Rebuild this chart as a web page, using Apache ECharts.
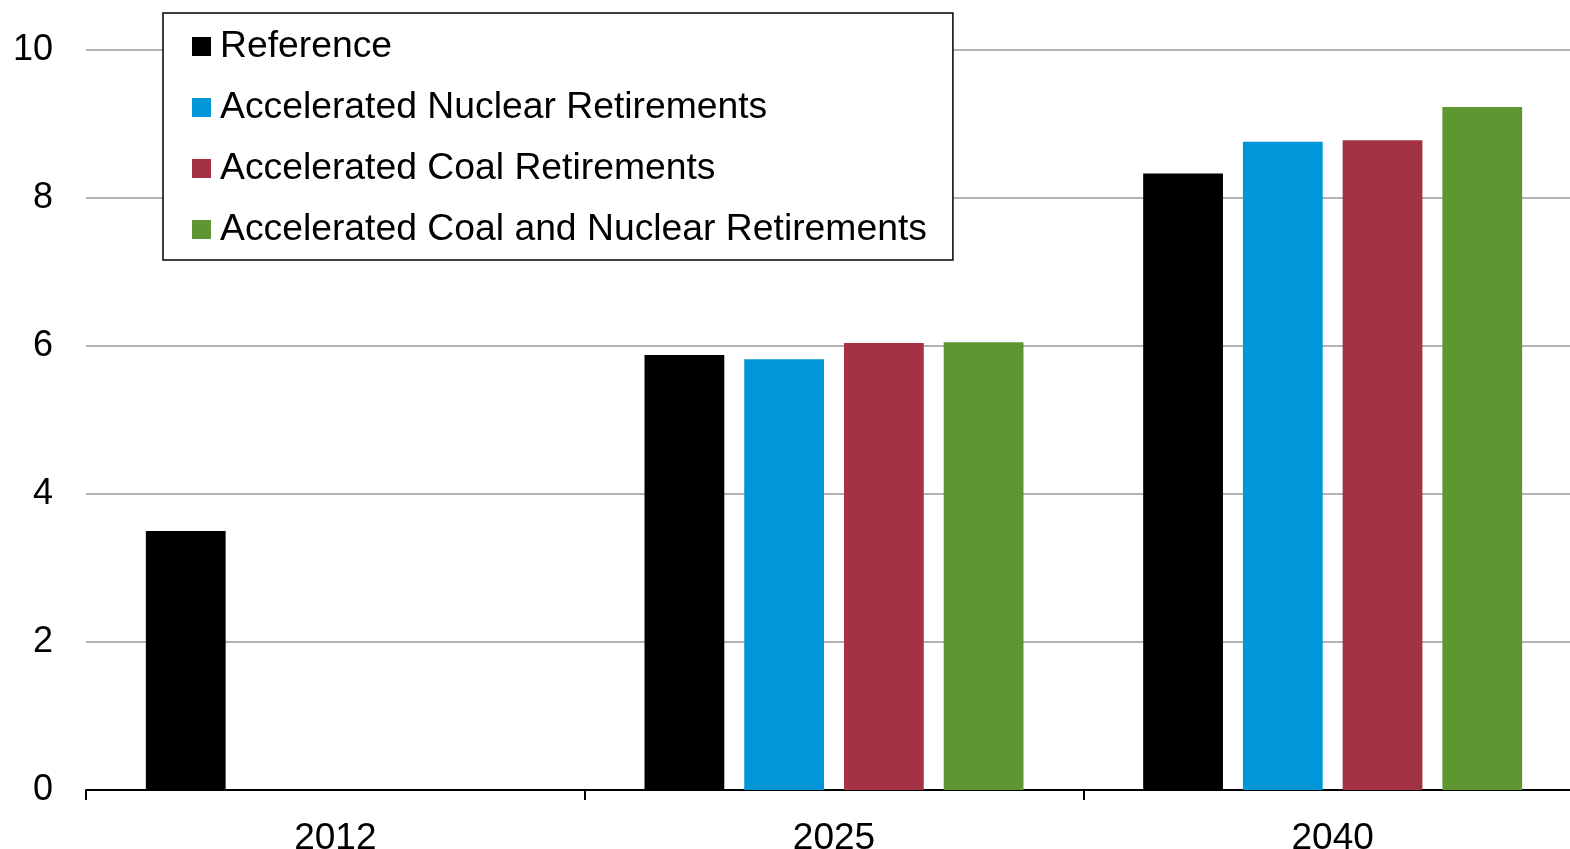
<!DOCTYPE html>
<html>
<head>
<meta charset="utf-8">
<script src="https://cdn.jsdelivr.net/npm/echarts@6/dist/echarts.min.js"></script>
<style>
  html, body { margin: 0; padding: 0; background: #ffffff; }
  #chart { width: 1570px; height: 849px; }
</style>
</head>
<body>
<div id="chart"></div>
<script>
// Years on the category axis
const years = ['2012', '2025', '2040'];

// Scenario values per year (no scenario runs exist for 2012)
const referenceValues = [3.50, 5.88, 8.33];
const nuclearRetireValues = [null, 5.82, 8.76];
const coalRetireValues = [null, 6.04, 8.78];
const coalNuclearRetireValues = [null, 6.05, 9.23];

// Value axis ticks
const yTicks = [0, 2, 4, 6, 8, 10];

const seriesNames = [
  'Reference',
  'Accelerated Nuclear Retirements',
  'Accelerated Coal Retirements',
  'Accelerated Coal and Nuclear Retirements'
];
const seriesColors = ['#000000', '#0097D8', '#A33343', '#5E9732'];
const seriesValues = [referenceValues, nuclearRetireValues, coalRetireValues, coalNuclearRetireValues];

const FONT = '"Liberation Sans", Arial, sans-serif';

const chart = echarts.init(document.getElementById('chart'), null, { renderer: 'canvas' });

chart.setOption({
  animation: false,
  backgroundColor: '#ffffff',
  textStyle: { fontFamily: FONT },
  // the last category runs slightly past the right edge of the canvas,
  // and the year labels sit partly below the bottom edge
  grid: {
    left: 86,
    right: -12,
    top: 50,
    bottom: 59,
    containLabel: false,
    outerBoundsMode: 'none'
  },
  legend: {
    orient: 'vertical',
    left: 163,
    top: 13,
    data: seriesNames,
    icon: 'rect',
    itemWidth: 19,
    itemHeight: 19,
    itemGap: 24,
    padding: [15, 26, 12, 29],
    borderColor: '#000000',
    borderWidth: 1.5,
    backgroundColor: '#ffffff',
    textStyle: {
      fontFamily: FONT,
      fontSize: 37.3,
      color: '#000000',
      lineHeight: 37,
      padding: [0, 0, 0, 4]
    },
    selectedMode: false
  },
  xAxis: {
    type: 'category',
    data: years,
    axisLine: { show: true, lineStyle: { color: '#000000', width: 2 } },
    axisTick: { show: true, alignWithLabel: false, length: 10, lineStyle: { color: '#000000', width: 2 } },
    axisLabel: {
      fontFamily: FONT,
      fontSize: 37,
      color: '#000000',
      margin: 30
    },
    splitLine: { show: false }
  },
  yAxis: {
    type: 'value',
    min: yTicks[0],
    max: yTicks[yTicks.length - 1],
    interval: yTicks[1] - yTicks[0],
    axisLine: { show: false },
    axisTick: { show: false },
    axisLabel: {
      fontFamily: FONT,
      fontSize: 36,
      color: '#000000',
      margin: 33
    },
    splitLine: { show: true, lineStyle: { color: '#B3B3B3', width: 2 } }
  },
  series: seriesNames.map((name, i) => ({
    name: name,
    type: 'bar',
    data: seriesValues[i],
    barGap: '25%',
    barCategoryGap: '24%',
    itemStyle: { color: seriesColors[i] },
    z: 3
  }))
});
</script>
</body>
</html>
